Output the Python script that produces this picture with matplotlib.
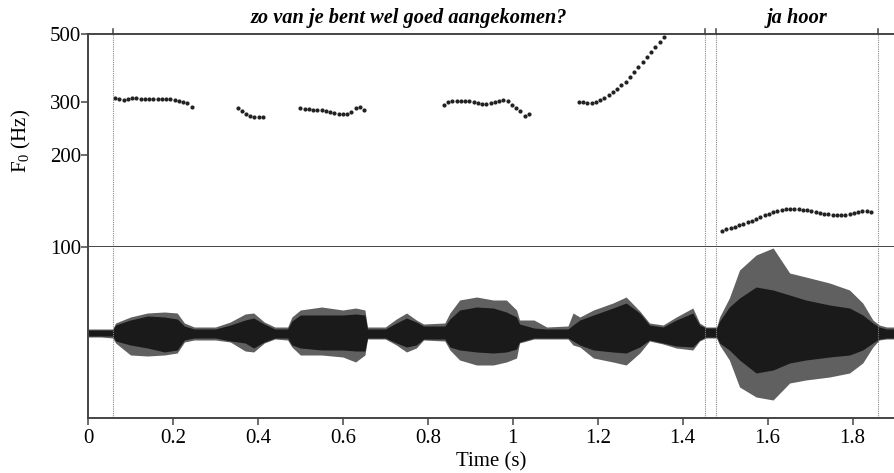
import numpy as np
import matplotlib
matplotlib.use("Agg")
import matplotlib.pyplot as plt
import matplotlib.transforms as mtransforms

plt.rcParams['font.family'] = ['Liberation Serif', 'DejaVu Serif']
plt.rcParams['mathtext.fontset'] = 'custom'
plt.rcParams['mathtext.rm'] = 'Liberation Serif'
plt.rcParams['mathtext.it'] = 'Liberation Serif:italic'

# F0 contour (Hz), one point every 10 ms per voiced stretch
seg_start = [0.064, 0.352, 0.500, 0.838, 1.156, 1.493]
seg_f0 = [
    [309, 306, 304, 306, 308, 308, 306, 306, 305, 305, 305, 305, 305, 305, 304, 302, 300, 296, 289],
    [285, 280, 273, 270, 267, 267, 268],
    [285, 284, 283, 282, 281, 281, 280, 278, 276, 274, 273, 273, 278, 285, 288, 281],
    [292, 298, 301, 302, 302, 302, 301, 298, 296, 295, 295, 296, 299, 301, 303, 301, 292, 285, 279, 270, 274],
    [300, 298, 297, 297, 299, 303, 308, 315, 322, 330, 339, 349, 361, 374, 389, 404, 419, 435, 452, 470, 490],
    [113.1, 114.3, 115.5, 116.7, 118.0, 119.3, 120.6, 122.0, 123.5, 125.2, 127.0, 128.8, 130.2, 131.3,
     132.3, 133.0, 133.3, 133.2, 132.8, 132.4, 132.0, 131.3, 130.5, 129.6, 128.7, 127.9, 127.3, 127.0,
     127.2, 127.7, 128.4, 129.2, 130.0, 131.3, 131.6, 130.6],
]

# Waveform envelope (arbitrary amplitude units)
wave_t = [0.00, 0.03, 0.058, 0.065, 0.10, 0.14, 0.18, 0.21, 0.227, 0.25, 0.30, 0.335, 0.37, 0.39, 0.415,
          0.44, 0.47, 0.48, 0.50, 0.55, 0.60, 0.63, 0.652, 0.658, 0.70, 0.726, 0.75, 0.773, 0.79, 0.84,
          0.852, 0.875, 0.915, 0.954, 0.985, 1.009, 1.016, 1.05, 1.08, 1.13, 1.142, 1.158, 1.19, 1.236,
          1.267, 1.299, 1.322, 1.354, 1.385, 1.424, 1.44, 1.455, 1.48, 1.487, 1.51, 1.534, 1.573, 1.613,
          1.652, 1.69, 1.746, 1.793, 1.824, 1.848, 1.863, 1.88, 1.90]
wave_outer_top = [4, 4, 4, 10, 16, 20, 21, 20, 10, 6, 6, 11, 19, 20, 11,
                  6, 6, 16, 23, 26, 23, 25, 23, 6, 6, 14, 20, 13, 9, 10,
                  20, 33, 36, 33, 33, 23, 13, 13, 6, 7, 20, 16, 23, 30,
                  36, 22, 10, 8, 16, 25, 10, 6, 6, 16, 35, 63, 78, 85,
                  60, 56, 50, 43, 30, 13, 8, 6, 6]
wave_inner_top = [3, 3, 3, 8, 13, 17, 16, 14, 7, 4, 4, 8, 13, 15, 9,
                  4, 4, 12, 18, 18, 18, 19, 18, 4, 4, 10, 15, 11, 7, 7,
                  14, 23, 26, 25, 21, 16, 9, 5, 4, 4, 8, 13, 18, 25,
                  30, 20, 8, 6, 13, 20, 8, 5, 5, 12, 26, 35, 46, 43,
                  38, 33, 28, 25, 18, 10, 6, 4, 4]
wave_inner_bot = [-3, -3, -3, -8, -12, -15, -19, -17, -7, -5, -5, -8, -10, -15, -9,
                  -5, -5, -12, -15, -17, -17, -18, -18, -5, -5, -10, -14, -12, -6, -6,
                  -14, -17, -19, -20, -19, -16, -9, -5, -5, -5, -8, -12, -17, -19,
                  -20, -14, -7, -10, -13, -14, -7, -4, -4, -10, -17, -27, -40, -37,
                  -30, -27, -24, -22, -17, -10, -6, -5, -5]
wave_outer_bot = [-4, -4, -5, -10, -22, -23, -22, -20, -9, -7, -7, -9, -18, -19, -10,
                  -6, -7, -14, -22, -22, -24, -29, -22, -6, -6, -12, -19, -15, -7, -8,
                  -17, -27, -32, -32, -29, -25, -10, -6, -6, -6, -12, -14, -25, -29,
                  -32, -20, -8, -11, -15, -17, -8, -5, -5, -12, -27, -54, -64, -67,
                  -50, -47, -44, -40, -30, -14, -7, -6, -6]

# Interval boundaries (s) and labels
bounds = [0.058, 1.452, 1.478, 1.861]
labels = ["zo van je bent wel goed aangekomen?", "ja hoor"]
label_t = [(0.058 + 1.452) / 2, (1.478 + 1.861) / 2]

xticks = [0, 0.2, 0.4, 0.6, 0.8, 1, 1.2, 1.4, 1.6, 1.8]
xticklabels = ["0", "0.2", "0.4", "0.6", "0.8", "1", "1.2", "1.4", "1.6", "1.8"]

spine_col = "#444444"

fig = plt.figure(figsize=(8.95, 4.73), dpi=100)
ax_f0 = fig.add_axes([88 / 895, 1 - 247 / 473, 1 - 88 / 895, (247 - 34) / 473])
ax_w = fig.add_axes([88 / 895, 1 - 418 / 473, 1 - 88 / 895, (418 - 247) / 473])

# F0 panel
for t0, vals in zip(seg_start, seg_f0):
    tt = t0 + 0.01 * np.arange(len(vals))
    ax_f0.plot(tt, vals, 'o', ms=3.0, color="#222222", mew=0)
ax_f0.set_yscale("log")
ax_f0.set_ylim(100, 500)
ax_f0.set_xlim(0, 1.9)
ax_f0.set_yticks([100, 200, 300, 500])
ax_f0.set_yticklabels(["100", "200", "300", "500"])
ax_f0.yaxis.set_minor_locator(matplotlib.ticker.NullLocator())
ax_f0.set_xticks([])
ax_f0.tick_params(axis="y", direction="out", length=5, width=1.1, color=spine_col,
                  labelsize=15, pad=0)
ax_f0.spines["right"].set_visible(False)
for s in ["left", "top", "bottom"]:
    ax_f0.spines[s].set_color(spine_col)
    ax_f0.spines[s].set_linewidth(1.4)
ax_f0.set_ylabel(r"F$_0$ (Hz)", fontsize=15, labelpad=12)

# Waveform panel
ax_w.fill_between(wave_t, wave_outer_bot, wave_outer_top, color="#606060", lw=0)
ax_w.fill_between(wave_t, wave_inner_bot, wave_inner_top, color="#1a1a1a", lw=0)
ax_w.plot(wave_t, np.zeros(len(wave_t)), color="#1a1a1a", lw=0.8)
ax_w.set_xlim(0, 1.9)
ax_w.set_ylim(-85, 86)
ax_w.set_yticks([])
ax_w.set_xticks(xticks)
ax_w.set_xticklabels(xticklabels)
ax_w.tick_params(axis="x", direction="out", length=5, width=1.1, color=spine_col,
                 labelsize=15, pad=3)
ax_w.spines["right"].set_visible(False)
ax_w.spines["top"].set_visible(False)
for s in ["left", "bottom"]:
    ax_w.spines[s].set_color(spine_col)
    ax_w.spines[s].set_linewidth(1.4)
ax_w.set_xlabel("Time (s)", fontsize=15, labelpad=3)

# boundaries
trans = mtransforms.blended_transform_factory(ax_f0.transData, ax_f0.transAxes)
for b in bounds:
    ax_f0.axvline(b, color="#888888", lw=0.8, ls=(0, (1, 1)))
    ax_w.axvline(b, color="#888888", lw=0.8, ls=(0, (1, 1)))
    ax_f0.plot([b, b], [1.0, 1.025], transform=trans, color=spine_col, lw=1.1, clip_on=False)

for txt, tc in zip(labels, label_t):
    ax_f0.text(tc, 1.077, txt, transform=trans, ha="center", va="center",
               fontsize=14.7, fontweight="bold", fontstyle="italic")

fig.savefig("out.png", dpi=100)
